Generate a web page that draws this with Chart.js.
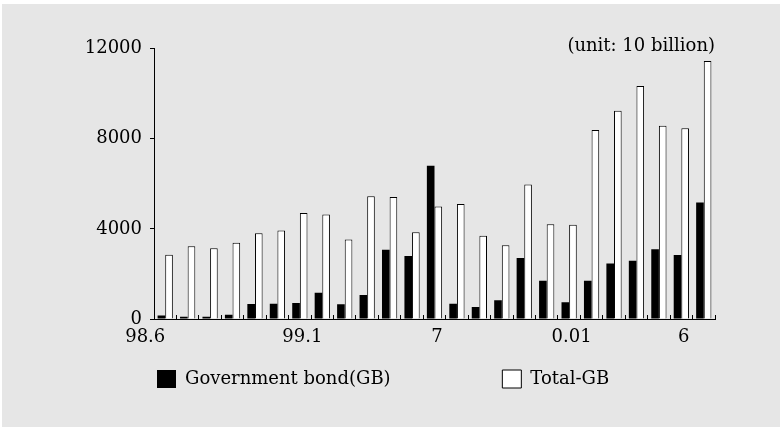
<!DOCTYPE html>
<html>
<head>
<meta charset="utf-8">
<script src="https://cdn.jsdelivr.net/npm/chart.js@4"></script>
<style>
  body { margin: 0; background: #fff; }
  #wrap { position: absolute; left: 2px; top: 4px; }
  canvas { background: #e6e6e6; display: block; }
</style>
</head>
<body>
<div id="wrap"><canvas id="bonds" width="778" height="423"></canvas></div>
<script>
// months 98.6 .. 00.6
const months = [
  "98.6", "98.7", "98.8", "98.9", "98.10", "98.11", "98.12",
  "99.1", "99.2", "99.3", "99.4", "99.5", "99.6", "99.7", "99.8", "99.9", "99.10", "99.11", "99.12",
  "00.1", "00.2", "00.3", "00.4", "00.5", "00.6"
];
// only these labels are printed on the axis
const shownLabels = { 0: "98.6", 7: "99.1", 13: "7", 19: "0.01", 24: "6" };

const govBond = [150, 100, 100, 190, 670, 680, 710, 1160, 650, 1070, 3070, 2800, 6800,
  680, 530, 830, 2710, 1700, 740, 1700, 2460, 2580, 3100, 2840, 5170];
const totalMinusGB = [2850, 3230, 3140, 3380, 3810, 3930, 4700, 4640, 3530, 5450, 5410, 3850, 4990,
  5100, 3690, 3270, 5970, 4210, 4180, 8390, 9240, 10340, 8580, 8470, 11450];

const yTicks = [0, 4000, 8000, 12000];

const FONT = "'DejaVu Serif', serif";
// spacing between the two legend entries
const gap = "\u00a0".repeat(19);

new Chart(document.getElementById("bonds").getContext("2d"), {
  type: "bar",
  data: {
    labels: months,
    datasets: [
      {
        label: "Government bond(GB)" + gap,
        data: govBond,
        backgroundColor: "#000",
        borderColor: "#000",
        borderWidth: 0,
      },
      {
        label: "Total-GB",
        data: totalMinusGB,
        backgroundColor: "#fff",
        borderColor: "#000",
        borderWidth: 1,
      },
    ],
  },
  options: {
    responsive: false,
    animation: false,
    categoryPercentage: 0.68,
    barPercentage: 1.0,
    layout: { padding: { left: 0, right: 65, top: 0, bottom: 29 } },
    plugins: {
      title: {
        display: true,
        text: "(unit: 10 billion)",
        align: "end",
        color: "#000",
        font: { family: FONT, size: 18, weight: "normal" },
        padding: { top: 32, bottom: -9 },
      },
      legend: {
        position: "bottom",
        fullSize: false,
        align: "start",
        labels: {
          color: "#000",
          font: { family: FONT, size: 18 },
          boxWidth: 19,
          boxHeight: 18,
          padding: 3,
        },
      },
      tooltip: { enabled: false },
    },
    scales: {
      x: {
        afterFit: (scale) => { scale.height = 48; },
        grid: {
          display: true,
          drawOnChartArea: false,
          offset: true,
          color: "#000",
          tickLength: -4,
        },
        border: { display: true, color: "#000", width: 1 },
        ticks: {
          autoSkip: false,
          maxRotation: 0,
          padding: 12,
          labelOffset: -20,
          color: "#000",
          font: { family: FONT, size: 18 },
          callback: (v, i) => shownLabels[i] || "",
        },
      },
      y: {
        min: 0,
        max: 12000,
        afterFit: (scale) => { scale.width = 152; },
        afterBuildTicks: (scale) => { scale.ticks = yTicks.map(v => ({ value: v })); },
        grid: { drawOnChartArea: false, color: "#000", tickLength: 4 },
        border: { display: true, color: "#000", width: 1 },
        ticks: {
          padding: 8,
          color: "#000",
          font: { family: FONT, size: 18 },
          callback: (v) => String(v),
        },
      },
    },
  },
});
</script>
</body>
</html>
